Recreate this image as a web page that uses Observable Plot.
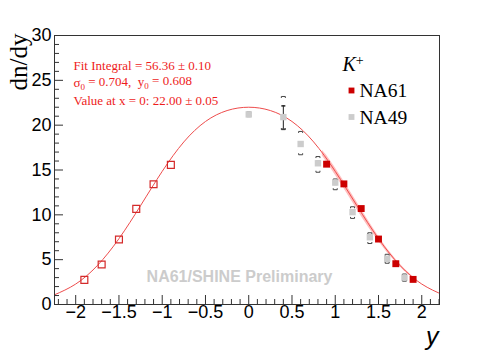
<!DOCTYPE html>
<html><head><meta charset="utf-8">
<script src="https://cdn.jsdelivr.net/npm/d3@7"></script>
<script src="https://cdn.jsdelivr.net/npm/@observablehq/plot@0.6"></script>
<style>body{margin:0;background:#fff} svg{display:block}</style>
</head><body><div id="chart"></div>
<script>
// ---- data ----
const na61X = [0.9, 1.1, 1.3, 1.5, 1.7, 1.9];
const na61Y = [15.65, 13.45, 10.7, 7.3, 4.55, 2.8];
const na61ReflX = [-0.9, -1.1, -1.3, -1.5, -1.7, -1.9];
const na61ReflY = [15.57, 13.41, 10.67, 7.25, 4.46, 2.75];
const na49X = [0, 0.4, 0.6, 0.8, 1.0, 1.2, 1.4, 1.6, 1.8];
const na49Y = [21.2, 20.9, 17.9, 15.75, 13.6, 10.3, 7.5, 5.1, 3.0];
const na49StatLo = [21.0, 19.55, 17.7, 15.55, 13.4, 10.1, 7.3, 4.9, 2.85];
const na49StatHi = [21.4, 22.15, 18.1, 15.95, 13.8, 10.5, 7.7, 5.3, 3.15];
const na49SysLo = [20.95, 19.5, 16.7, 14.75, 12.8, 9.6, 6.8, 4.6, 2.6];
const na49SysHi = [21.45, 23.2, 19.3, 16.5, 14.0, 10.9, 8.0, 5.6, 3.4];
const fitX = [-2.25, -2, -1.75, -1.5, -1.25, -1, -0.75, -0.5, -0.25, 0, 0.25, 0.5, 0.75, 1, 1.25, 1.5, 1.75, 2, 2.25];
const fitY = [1.06, 2.28, 4.34, 7.34, 11.03, 14.85, 18.13, 20.41, 21.63, 22.0, 21.63, 20.41, 18.13, 14.85, 11.03, 7.34, 4.34, 2.28, 1.06];
const bandX = [0.85, 0.9, 1.0, 1.1, 1.2, 1.3, 1.4, 1.5, 1.6, 1.7, 1.8, 1.9, 1.95];
const bandLo = [16.6, 15.9, 14.45, 12.95, 11.4, 9.85, 8.4, 7.05, 5.8, 4.7, 3.72, 2.9, 2.55];
const bandHi = [17.2, 16.65, 15.25, 13.75, 12.2, 10.65, 9.1, 7.6, 6.25, 5.05, 3.98, 3.1, 2.7];
const xMajorTicks = [-2, -1.5, -1, -0.5, 0, 0.5, 1, 1.5, 2];
const yMajorTicks = [0, 5, 10, 15, 20, 25, 30];
const fitLine1 = "Fit Integral = 56.36 \u00b1 0.10";
const fitLine3 = "Value at x = 0: 22.00 \u00b1 0.05";
const legendLabels = ["NA61", "NA49"];

// ---- layout ----
const W = 488, H = 352, mL = 54, mR = 49, mT = 35, mB = 48;
const innerW = W - mL - mR, innerH = H - mT - mB;
const sans = "Liberation Sans, Arial, Helvetica, sans-serif";
const serif = "Liberation Serif, Times New Roman, serif";
const xMinor = d3.range(-22, 23).map(d => d / 10).filter(d => Math.abs(d * 2 - Math.round(d * 2)) > 1e-6);
const yMinor = d3.range(0, 31).filter(d => d % 5 !== 0);
const fmt = d => d < 0 ? "\u2212" + Math.abs(d) : String(d);

const idx61 = d3.range(na61X.length);
const idx49 = d3.range(na49X.length);
const fit = fitX.map((x, i) => ({x, y: fitY[i]}));
const band = bandX.map((x, i) => ({x, lo: bandLo[i], hi: bandHi[i]}));

const bracketTop = {draw(c) { c.moveTo(-2, 1.5); c.lineTo(-2, 0); c.lineTo(2, 0); c.lineTo(2, 1.5); }};
const bracketBot = {draw(c) { c.moveTo(-2, -1.5); c.lineTo(-2, 0); c.lineTo(2, 0); c.lineTo(2, -1.5); }};
const cap = {draw(c) { c.moveTo(-2, 0); c.lineTo(2, 0); }};

const txt = (s, dx, dy, opts) => Plot.text([s], Object.assign({frameAnchor: "top-left", dx, dy, textAnchor: "start", lineAnchor: "bottom"}, opts));

const svg = Plot.plot({
  width: W, height: H,
  marginLeft: mL, marginRight: mR, marginTop: mT, marginBottom: mB,
  x: {domain: [-2.245, 2.205], axis: null},
  y: {domain: [0, 30], axis: null},
  style: {background: "white", overflow: "visible"},
  marks: [
    Plot.areaY(band, {x: "x", y1: "lo", y2: "hi", fill: "#ffb3b3", fillOpacity: 0.85}),
    Plot.line(fit, {x: "x", y: "y", stroke: "#ee4c4c", strokeWidth: 1, curve: "natural", clip: true}),
    // NA49 statistical error bars
    Plot.ruleX(idx49, {x: i => na49X[i], y1: i => na49StatLo[i], y2: i => na49StatHi[i], stroke: "#222", strokeWidth: 1}),
    Plot.dot(idx49, {x: i => na49X[i], y: i => na49StatLo[i], symbol: cap, r: 2, stroke: "#222", fill: "none"}),
    Plot.dot(idx49, {x: i => na49X[i], y: i => na49StatHi[i], symbol: cap, r: 2, stroke: "#222", fill: "none"}),
    // NA49 systematic brackets
    Plot.dot(idx49, {x: i => na49X[i], y: i => na49SysHi[i], symbol: bracketTop, r: 2, stroke: "#444", fill: "none", strokeWidth: 1}),
    Plot.dot(idx49, {x: i => na49X[i], y: i => na49SysLo[i], symbol: bracketBot, r: 2, stroke: "#444", fill: "none", strokeWidth: 1}),
    Plot.dot(idx49, {x: i => na49X[i], y: i => na49Y[i], symbol: "square", r: 3.6, fill: "#cccccc", stroke: "none"}),
    Plot.dot(idx61, {x: i => na61ReflX[i], y: i => na61ReflY[i], symbol: "square", r: 3.9, fill: "none", stroke: "#d42a2a", strokeWidth: 1.2}),
    Plot.dot(idx61, {x: i => na61X[i], y: i => na61Y[i], symbol: "square", r: 3.9, fill: "#cc0000", stroke: "none"}),
    // frame and ticks
    Plot.frame({stroke: "#333", strokeWidth: 1}),
    Plot.tickX(xMajorTicks, {x: d => d, insetTop: innerH - 9, stroke: "#333"}),
    Plot.tickX(xMinor, {x: d => d, insetTop: innerH - 5, stroke: "#333"}),
    Plot.tickY(yMajorTicks, {y: d => d, insetRight: innerW - 9, stroke: "#333"}),
    Plot.tickY(yMinor, {y: d => d, insetRight: innerW - 5, stroke: "#333"}),
    Plot.text(xMajorTicks, {x: d => d, frameAnchor: "bottom", dy: 13, text: fmt, fontSize: 18, fontFamily: sans, fill: "#000"}),
    Plot.text(yMajorTicks, {y: d => d, frameAnchor: "left", dx: -3, text: fmt, textAnchor: "end", fontSize: 18, fontFamily: sans, fill: "#000"}),
    // axis titles
    Plot.text(["dn/dy"], {frameAnchor: "top-left", dx: -28, dy: -2, rotate: -90, textAnchor: "end", lineAnchor: "bottom", fontSize: 25, fontFamily: serif, fill: "#000"}),
    Plot.text(["y"], {frameAnchor: "bottom-right", dx: -1, dy: 40, textAnchor: "end", lineAnchor: "bottom", fontSize: 25, fontFamily: sans, fontStyle: "italic", fill: "#000"}),
    // fit annotation
    txt(fitLine1, 19, 34.5, {fontSize: 13, fontFamily: serif, fill: "#ee1c1c"}),
    txt("SIGMALINE", 19, 51.9, {fontSize: 13, fontFamily: serif, fill: "#ee1c1c"}),
    txt(fitLine3, 19, 69.3, {fontSize: 13, fontFamily: serif, fill: "#ee1c1c"}),
    // legend
    txt("KPLUS", 288, 35.5, {fontSize: 20, fontFamily: serif, fill: "#000"}),
    Plot.dot([0], {frameAnchor: "top-left", dx: 297, dy: 55, symbol: "square", r: 3.3, fill: "#cc0000"}),
    Plot.dot([0], {frameAnchor: "top-left", dx: 297, dy: 81.5, symbol: "square", r: 3.3, fill: "#cccccc"}),
    txt(legendLabels[0], 305, 61.5, {fontSize: 19.5, fontFamily: serif, fill: "#000"}),
    txt(legendLabels[1], 305, 88.3, {fontSize: 19.5, fontFamily: serif, fill: "#000"}),
    // watermark
    Plot.text(["NA61/SHINE Preliminary"], {frameAnchor: "bottom-left", dx: 185, dy: -22.5, textAnchor: "middle", lineAnchor: "bottom", fontSize: 16, fontWeight: "bold", fontFamily: sans, fill: "#cccccc"})
  ]
});

// rich text (sub/superscripts)
d3.select(svg).selectAll("text").each(function () {
  const t = this.textContent;
  const sel = d3.select(this);
  if (t === "SIGMALINE") {
    sel.text("").style("white-space", "pre");
    sel.append("tspan").text("\u03c3");
    sel.append("tspan").attr("dy", "0.3em").attr("font-size", "9").text("0");
    sel.append("tspan").attr("dy", "-0.3em").text(" = 0.704,  y");
    sel.append("tspan").attr("dy", "0.3em").attr("font-size", "9").text("0");
    sel.append("tspan").attr("dy", "-0.3em").text(" = 0.608");
  } else if (t === "KPLUS") {
    sel.text("");
    sel.append("tspan").attr("font-style", "italic").text("K");
    sel.append("tspan").attr("dy", "-0.4em").attr("font-size", "14").text("+");
  }
});
document.getElementById("chart").appendChild(svg);
</script>
</body></html>
